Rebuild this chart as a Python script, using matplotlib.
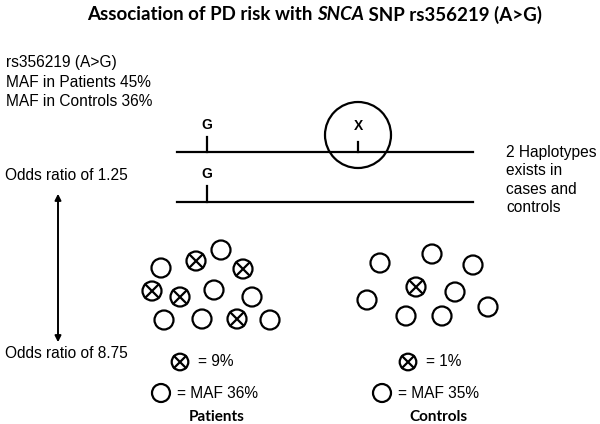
import matplotlib.pyplot as plt
from matplotlib.patches import Circle

# text content
title_parts = ["Association of PD risk with ", "SNCA", " SNP rs356219 (A>G)"]
info_lines = ["rs356219 (A>G)", "MAF in Patients 45%", "MAF in Controls 36%"]
haplo_note = ["2 Haplotypes", "exists in", "cases and", "controls"]
odds_labels = ["Odds ratio of 1.25", "Odds ratio of 8.75"]
groups = ["Patients", "Controls"]
cross_pct = [9, 1]
maf_pct = [36, 35]

# circles in each group: (x, y, has_cross)
patients = [(161, 268, 0), (196, 261, 1), (221, 250, 0), (243, 269, 1),
            (152, 291, 1), (180, 297, 1), (214, 290, 0), (252, 297, 0),
            (164, 320, 0), (202, 319, 0), (237, 319, 1), (270, 320, 0)]
controls = [(380, 263, 0), (432, 254, 0), (473, 265, 0), (416, 287, 1),
            (367, 300, 0), (455, 292, 0), (488, 307, 0), (406, 316, 0),
            (442, 316, 0)]

fig = plt.figure(figsize=(6, 4.24), dpi=100)
ax = fig.add_axes([0, 0, 1, 1])
ax.set_xlim(0, 600)
ax.set_ylim(424, 0)
ax.axis('off')

sans = 'Liberation Sans'
LW = 1.6
FS = 11.2


def draw_circle(x, y, cross, r=9.5):
    ax.add_patch(Circle((x, y), r, fill=False, lw=LW, color='black'))
    if cross:
        d = r * 0.707
        ax.plot([x - d, x + d], [y - d, y + d], color='black', lw=LW)
        ax.plot([x - d, x + d], [y + d, y - d], color='black', lw=LW)


# title (with italic gene name)
renderer = fig.canvas.get_renderer()
x0 = 87
for i, part in enumerate(title_parts):
    tt = ax.text(x0, 15, part, fontsize=13.5, fontweight='bold', family='Lato',
                 va='center', style='italic' if i == 1 else 'normal')
    bb = tt.get_window_extent(renderer=renderer)
    x0 += bb.width

for i, s in enumerate(info_lines):
    ax.text(6, 63 + i * 19.5, s, fontsize=FS, family=sans, va='center')

# haplotype lines
for y in [152, 202]:
    ax.plot([177, 473], [y, y], color='black', lw=LW)
ax.plot([207, 207], [137, 152], color='black', lw=LW)
ax.text(207, 125, "G", fontsize=10, fontweight='bold', family=sans, ha='center', va='center')
ax.plot([207, 207], [186, 202], color='black', lw=LW)
ax.text(207, 174, "G", fontsize=10, fontweight='bold', family=sans, ha='center', va='center')
ax.add_patch(Circle((358, 135), 33, fill=False, lw=LW, color='black'))
ax.plot([358, 358], [142, 152], color='black', lw=LW)
ax.text(358, 126, "X", fontsize=10, fontweight='bold', family=sans, ha='center', va='center')

for i, s in enumerate(haplo_note):
    ax.text(506, 152 + i * 18.5, s, fontsize=FS, family=sans, va='center')

ax.text(5, 175, odds_labels[0], fontsize=FS, family=sans, va='center')
ax.text(5, 353, odds_labels[1], fontsize=FS, family=sans, va='center')
ax.annotate('', xy=(58, 191), xytext=(58, 345),
            arrowprops=dict(arrowstyle='<|-|>', color='black', lw=1.4,
                            mutation_scale=9))

for x, y, c in patients:
    draw_circle(x, y, c)
for x, y, c in controls:
    draw_circle(x, y, c)

# legends
for cx, mx, gx, cp, mp, g in [(180, 161, 189, cross_pct[0], maf_pct[0], groups[0]),
                              (408, 382, 409, cross_pct[1], maf_pct[1], groups[1])]:
    draw_circle(cx, 362, 1, r=8.3)
    ax.text(cx + 18, 362, f"= {cp}%", fontsize=FS, family=sans, va='center')
    draw_circle(mx, 393, 0, r=9)
    ax.text(mx + 16, 393, f"= MAF {mp}%", fontsize=FS, family=sans, va='center')
    ax.text(gx, 417, g, fontsize=11, fontweight='bold', family='Lato',
            ha='left', va='center')

fig.savefig('out.png', dpi=100)
